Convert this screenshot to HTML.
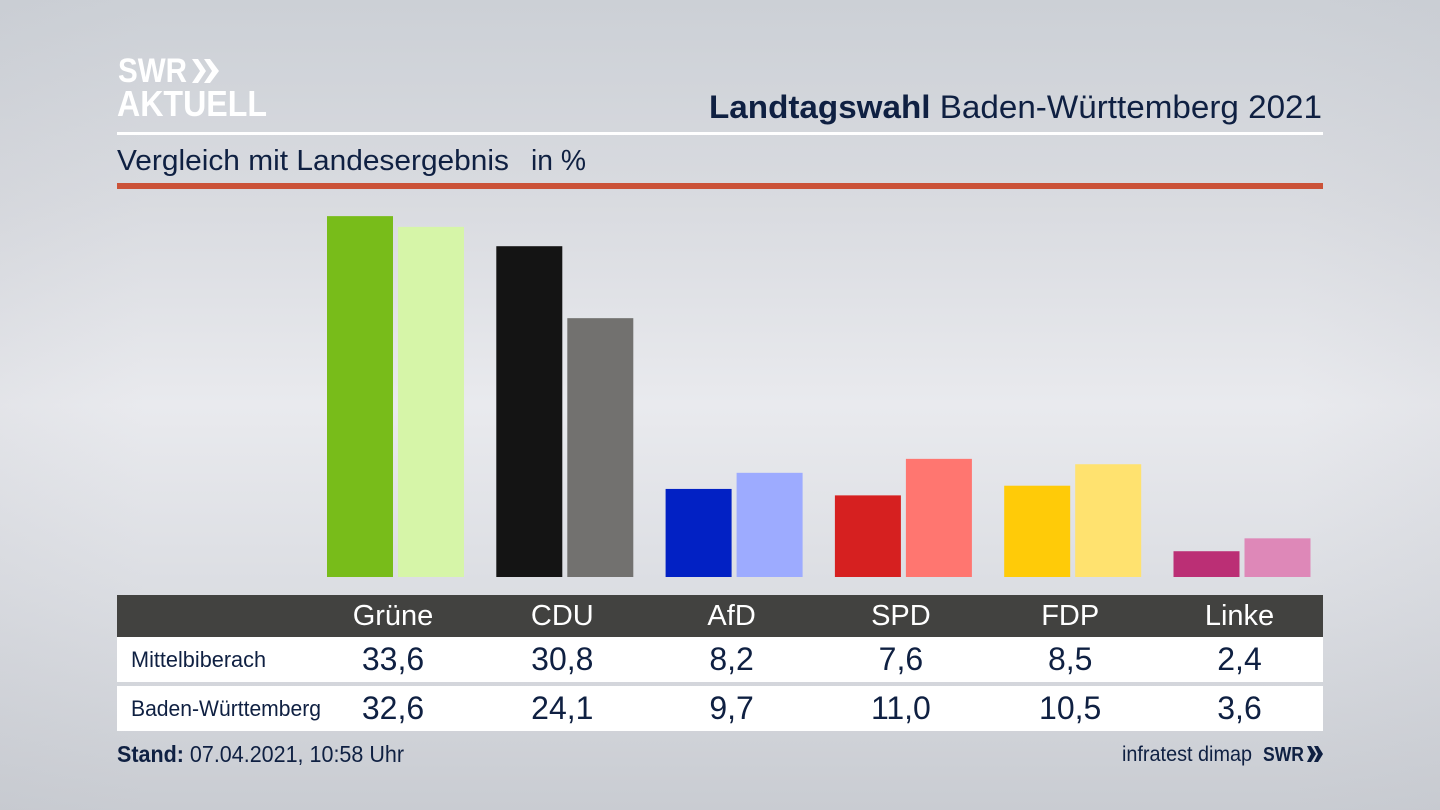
<!DOCTYPE html>
<html lang="de">
<head>
<meta charset="utf-8">
<title>Landtagswahl Baden-Württemberg 2021</title>
<style>
html,body{margin:0;padding:0;width:1440px;height:810px;overflow:hidden;background:#d5d7dc}
svg{display:block;font-family:"Liberation Sans",sans-serif}
</style>
</head>
<body>
<svg id="chart" xmlns="http://www.w3.org/2000/svg" width="1440" height="810" viewBox="0 0 1440 810">
<defs>
<linearGradient id="bg" x1="0" y1="0" x2="0" y2="1">
<stop offset="0" stop-color="#ccd0d6"/>
<stop offset="0.25" stop-color="#d9dbe0"/>
<stop offset="0.5" stop-color="#e9eaee"/>
<stop offset="0.72" stop-color="#dcdee3"/>
<stop offset="1" stop-color="#c9ccd2"/>
</linearGradient>
<linearGradient id="edge" x1="0" y1="0" x2="1" y2="0">
<stop offset="0" stop-color="#b9bcc4" stop-opacity="0.12"/>
<stop offset="0.1" stop-color="#b9bcc4" stop-opacity="0"/>
<stop offset="0.9" stop-color="#b9bcc4" stop-opacity="0"/>
<stop offset="1" stop-color="#b9bcc4" stop-opacity="0.12"/>
</linearGradient>
</defs>
<rect width="1440" height="810" fill="url(#bg)"/>
<rect width="1440" height="810" fill="url(#edge)"/>

<g fill="#fff">
<text x="118" y="82" font-size="34" font-weight="700" textLength="69" lengthAdjust="spacingAndGlyphs">SWR</text>
<polygon points="192,59 198,59 206,71 198,83 192,83 200,71"/>
<polygon points="204,59 210,59 219,71 210,83 204,83 212,71"/>
<text x="117" y="116" font-size="36" font-weight="700" textLength="150" lengthAdjust="spacingAndGlyphs">AKTUELL</text>
</g>

<text x="1322" y="118" font-size="32" fill="#0f2042" text-anchor="end" textLength="613" lengthAdjust="spacingAndGlyphs"><tspan font-weight="700">Landtagswahl</tspan> Baden-Württemberg 2021</text>
<rect x="117" y="132" width="1206" height="3" fill="#ffffff"/>
<text x="117" y="170" font-size="29" fill="#0f2042" textLength="392" lengthAdjust="spacingAndGlyphs">Vergleich mit Landesergebnis</text>
<text x="531" y="170" font-size="29" fill="#0f2042" textLength="55" lengthAdjust="spacingAndGlyphs">in %</text>
<rect x="117" y="183" width="1206" height="6" fill="#cb5238"/>

<g id="bars"></g>

<rect x="117" y="595" width="1206" height="42" fill="#424240"/>
<rect x="117" y="637" width="1206" height="45" fill="#ffffff"/>
<rect x="117" y="686" width="1206" height="45" fill="#ffffff"/>
<g id="table"></g>

<text x="117" y="762" font-size="23" fill="#0f2042" textLength="287" lengthAdjust="spacingAndGlyphs"><tspan font-weight="700">Stand:</tspan> 07.04.2021, 10:58 Uhr</text>
<text x="1122" y="761" font-size="21" fill="#0f2042" textLength="130" lengthAdjust="spacingAndGlyphs">infratest dimap</text>
<g fill="#0f2042">
<text x="1263" y="761" font-size="20" font-weight="700" textLength="41" lengthAdjust="spacingAndGlyphs">SWR</text>
<polygon points="1307,746 1311,746 1316,754 1311,762 1307,762 1311,754"/>
<polygon points="1314,746 1318,746 1323,754 1318,762 1314,762 1318,754"/>
</g>
</svg>
<script>
const parties = ["Grüne", "CDU", "AfD", "SPD", "FDP", "Linke"];
const localLabel = "Mittelbiberach";
const stateLabel = "Baden-Württemberg";
const localValues = [33.6, 30.8, 8.2, 7.6, 8.5, 2.4];
const stateValues = [32.6, 24.1, 9.7, 11.0, 10.5, 3.6];
const localColors = ["#78bc1a", "#141414", "#0221c4", "#d62020", "#ffcb08", "#bb2f75"];
const stateColors = ["#d6f5a8", "#72716f", "#9dabff", "#ff7670", "#ffe26f", "#de88b8"];

const svgNS = "http://www.w3.org/2000/svg";
const barsGroup = document.getElementById("bars");
const tableGroup = document.getElementById("table");

function yScale(v) { return 577 - v * 10.74; }
function groupCenter(i) { return 393 + i * 169.3; }
function fmt(v) { return v.toFixed(1).replace(".", ","); }
function slug(s) { return s.toLowerCase().replace("ü", "ue"); }

function makeBar(x, value, color) {
  const r = document.createElementNS(svgNS, "rect");
  r.setAttribute("x", x);
  r.setAttribute("y", yScale(value));
  r.setAttribute("width", 66);
  r.setAttribute("height", 577 - yScale(value));
  r.setAttribute("fill", color);
  barsGroup.appendChild(r);
  return r;
}

function makeText(x, y, str, size, color, anchor) {
  const t = document.createElementNS(svgNS, "text");
  t.setAttribute("x", x);
  t.setAttribute("y", y);
  t.setAttribute("font-size", size);
  t.setAttribute("fill", color);
  t.setAttribute("text-anchor", anchor);
  t.textContent = str;
  tableGroup.appendChild(t);
  return t;
}

parties.forEach(function (party, i) {
  const c = groupCenter(i);
  const key = slug(party);

  const localBar = makeBar(c - 66, localValues[i], localColors[i]);
  
  

  const stateBar = makeBar(c + 5, stateValues[i], stateColors[i]);
  
  

  const head = makeText(c, 625, party, 29, "#ffffff", "middle");
  
  

  const localVal = makeText(c, 670, fmt(localValues[i]), 32, "#0f2042", "middle");
  
  

  const stateVal = makeText(c, 719, fmt(stateValues[i]), 32, "#0f2042", "middle");
  
  
});

const localRowLabel = makeText(131, 667, localLabel, 22, "#0f2042", "start");
localRowLabel.setAttribute("textLength", 135);
localRowLabel.setAttribute("lengthAdjust", "spacingAndGlyphs");



const stateRowLabel = makeText(131, 716, stateLabel, 22, "#0f2042", "start");
stateRowLabel.setAttribute("textLength", 190);
stateRowLabel.setAttribute("lengthAdjust", "spacingAndGlyphs");


</script>
</body>
</html>
